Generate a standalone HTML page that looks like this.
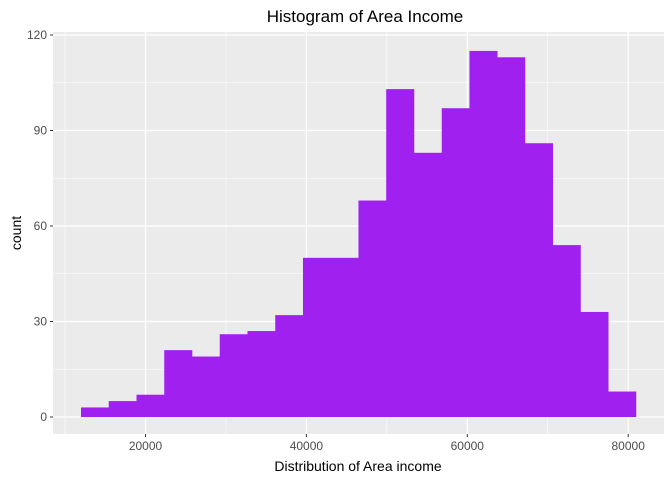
<!DOCTYPE html>
<html><head><meta charset="utf-8"><style>
body{margin:0;background:#fff;font-family:"Liberation Sans",Arial,sans-serif;}
</style></head><body>
<svg width="672" height="480" xmlns="http://www.w3.org/2000/svg">
<text x="365" y="22" text-anchor="middle" font-size="17" fill="#000">Histogram of Area Income</text>
<rect x="53" y="32" width="611" height="402" fill="#ebebeb"/>
<g id="grid"></g>
<g id="bars"></g>
<g id="axes"></g>
<text x="358" y="471" text-anchor="middle" font-size="14" fill="#000">Distribution of Area income</text>
<text transform="translate(21,233) rotate(-90)" text-anchor="middle" font-size="14" fill="#000">count</text>
</svg>
<script>
const counts=[3,5,7,21,19,26,27,32,50,50,68,103,83,97,115,113,86,54,33,8];
const binStart=11983;
const binWidth=3449;
const xTicks=[20000,40000,60000,80000];
const xMinor=[10000,30000,50000,70000];
const yTicks=[0,30,60,90,120];
const yMinor=[15,45,75,105];
const NS="http://www.w3.org/2000/svg";
function X(v){return 145.5+(v-20000)*0.008045;}
function Y(v){return 417-v*(382/120);}
function mk(t,a,p){const e=document.createElementNS(NS,t);for(const k in a)e.setAttribute(k,a[k]);p.appendChild(e);return e;}
const grid=document.getElementById('grid'),bars=document.getElementById('bars'),axes=document.getElementById('axes');
xMinor.forEach(v=>{const l=mk('line',{x1:X(v),x2:X(v),y1:32,y2:434,stroke:'#fff','stroke-width':0.6},grid);

});
yMinor.forEach(v=>{const l=mk('line',{x1:53,x2:664,y1:Y(v),y2:Y(v),stroke:'#fff','stroke-width':0.6},grid);

});
xTicks.forEach(v=>{const l=mk('line',{x1:X(v),x2:X(v),y1:32,y2:434,stroke:'#fff','stroke-width':1.2},grid);


const t=mk('line',{x1:X(v),x2:X(v),y1:434,y2:437,stroke:'#333','stroke-width':1},axes);


const tx=mk('text',{x:X(v),y:450,'text-anchor':'middle','font-size':12,fill:'#4d4d4d'},axes);tx.textContent=v;

});
yTicks.forEach(v=>{const l=mk('line',{x1:53,x2:664,y1:Y(v),y2:Y(v),stroke:'#fff','stroke-width':1.2},grid);


const t=mk('line',{x1:50,x2:53,y1:Y(v),y2:Y(v),stroke:'#333','stroke-width':1},axes);


const tx=mk('text',{x:47,y:Y(v)+4,'text-anchor':'end','font-size':12,fill:'#4d4d4d'},axes);tx.textContent=v;

});
counts.forEach((c,i)=>{const x0=X(binStart+i*binWidth),x1=X(binStart+(i+1)*binWidth);
const r=mk('rect',{x:x0,y:Y(c),width:x1-x0+0.3,height:Y(0)-Y(c),fill:'#a020f0'},bars);

});
</script>
</body></html>
